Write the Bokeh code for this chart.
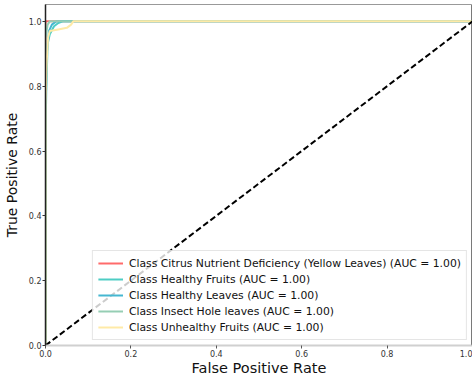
from bokeh.plotting import figure
from bokeh.models import Range1d, Legend, LegendItem, FixedTicker, NumeralTickFormatter, Span
from bokeh.embed import file_html
from bokeh.resources import INLINE

class_names = [
    "Citrus Nutrient Deficiency (Yellow Leaves)",
    "Healthy Fruits",
    "Healthy Leaves",
    "Insect Hole leaves",
    "Unhealthy Fruits",
]
auc_values = [1.00, 1.00, 1.00, 1.00, 1.00]
colors = ["#FF6B6B", "#4ECDC4", "#45B7D1", "#96CEB4", "#FFEAA7"]

fpr_citrus = [0.0, 0.0, 1.0]
tpr_citrus = [0.0, 1.0, 1.0]
fpr_hfruits = [0.0, 0.0, 0.002, 0.005, 0.01, 0.02, 0.03, 0.04, 1.0]
tpr_hfruits = [0.0, 0.65, 0.80, 0.93, 0.96, 0.985, 0.995, 1.0, 1.0]
fpr_hleaves = [0.0, 0.0, 0.003, 0.008, 0.015, 0.025, 1.0]
tpr_hleaves = [0.0, 0.70, 0.90, 0.97, 0.99, 1.0, 1.0]
fpr_insect = [0.0, 0.0, 0.005, 0.01, 1.0]
tpr_insect = [0.0, 0.95, 0.99, 1.0, 1.0]
fpr_unhealthy = [0.0, 0.0, 0.003, 0.006, 0.01, 0.03, 0.05, 0.06, 0.065, 1.0]
tpr_unhealthy = [0.0, 0.75, 0.88, 0.95, 0.97, 0.975, 0.98, 0.99, 1.0, 1.0]

fprs = [fpr_citrus, fpr_hfruits, fpr_hleaves, fpr_insect, fpr_unhealthy]
tprs = [tpr_citrus, tpr_hfruits, tpr_hleaves, tpr_insect, tpr_unhealthy]

diag_x = [0.0, 1.0]
diag_y = [0.0, 1.0]
ticks = [0.0, 0.2, 0.4, 0.6, 0.8, 1.0]

FONT = "DejaVu Sans"

p = figure(
    width=472, height=378,
    output_backend="svg", toolbar_location=None,
    x_range=Range1d(0, 1), y_range=Range1d(0, 1.052),
    min_border_left=40, min_border_top=4, min_border_right=0, min_border_bottom=20,
)
p.grid.visible = False
p.outline_line_color = "#999999"
p.background_fill_color = "white"

items = []
for name, auc, col, fx, ty in zip(class_names, auc_values, colors, fprs, tprs):
    r = p.line(fx, ty, line_color=col, line_width=2)
    items.append(LegendItem(label=f"Class {name} (AUC = {auc:.2f})", renderers=[r]))

p.line(diag_x, diag_y, line_color="black", line_width=2, line_dash="6 3")

for ax in (p.xaxis[0], p.yaxis[0]):
    ax.ticker = FixedTicker(ticks=ticks)
    ax.formatter = NumeralTickFormatter(format="0.0")
    ax.major_label_text_font = FONT
    ax.major_label_text_font_size = "8px"
    ax.major_label_text_color = "#333333"
    ax.axis_label_text_font = FONT
    ax.axis_label_text_font_style = "normal"
    ax.axis_label_text_color = "#111111"
    ax.minor_tick_line_color = None
    ax.major_tick_in = 0
    ax.major_tick_out = 3
    ax.major_label_standoff = 1
    ax.axis_label_standoff = 0

p.xaxis.axis_label = "False Positive Rate"
p.xaxis.axis_label_text_font_size = "14.5px"
p.yaxis.axis_label = "True Positive Rate"
p.yaxis.axis_label_text_font_size = "14px"
p.yaxis.axis_label_standoff = 6
p.xaxis.axis_line_color = "#d0d0d0"
p.xaxis.axis_line_width = 2
p.xaxis.major_tick_line_color = "#555555"
p.yaxis.axis_line_color = "#222222"
p.yaxis.axis_line_width = 1.5
p.yaxis.major_tick_line_color = "#333333"

p.add_layout(Span(location=1.0, dimension="height", line_color="#222222", line_width=1.5))

legend = Legend(items=items, location="bottom_right")
legend.label_text_font = FONT
legend.label_text_font_size = "10.8px"
legend.label_text_color = "#111111"
legend.label_height = 14
legend.glyph_height = 14
legend.glyph_width = 25
legend.label_standoff = 6
legend.spacing = 2
legend.padding = 5
legend.margin = 5
legend.border_line_color = "#cccccc"
legend.background_fill_alpha = 0.8
p.add_layout(legend, "center")

open("out.html", "w").write(file_html(p, INLINE))
